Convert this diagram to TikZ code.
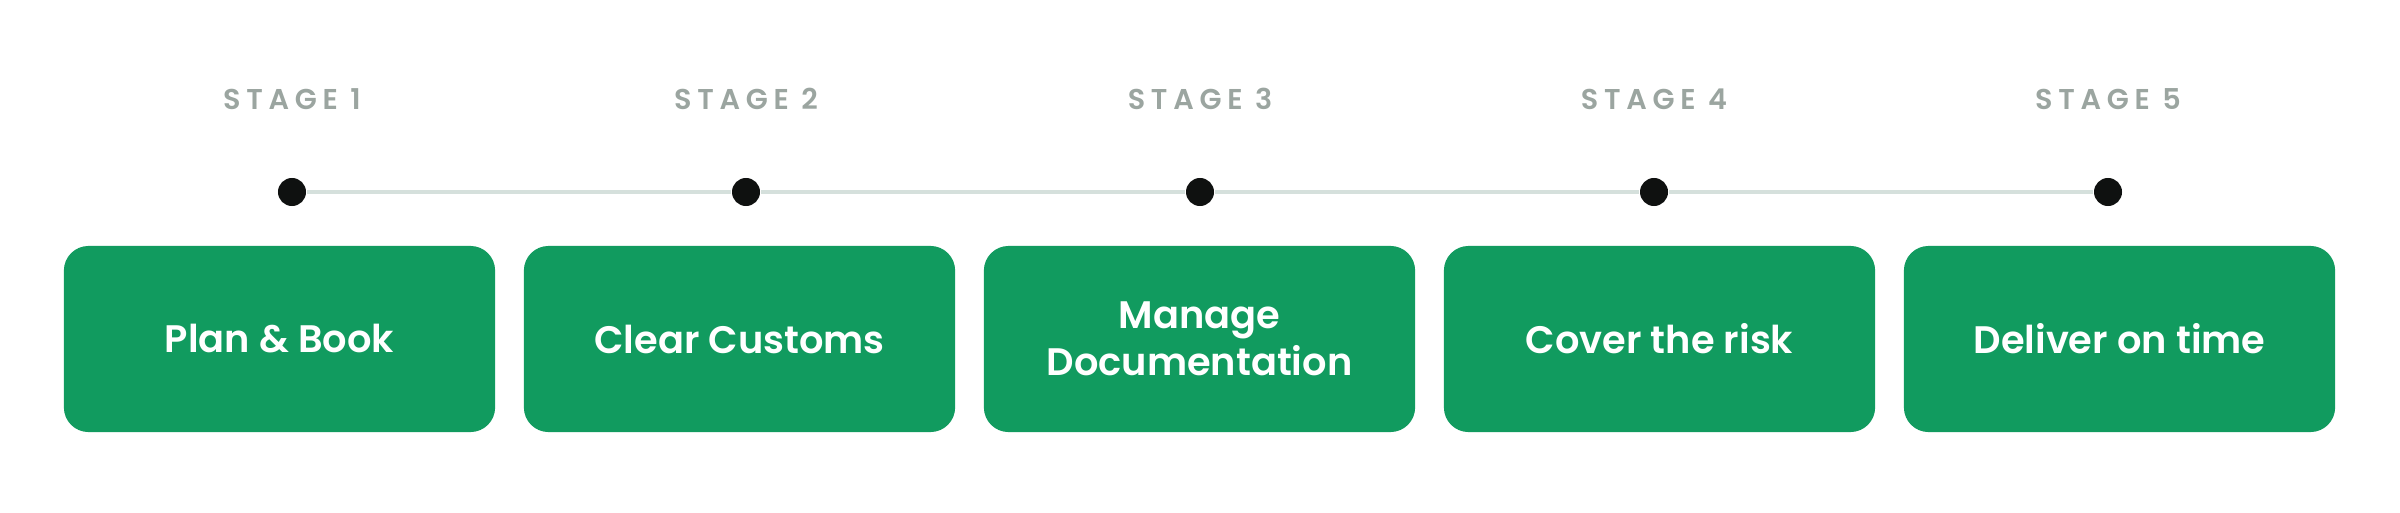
\documentclass[tikz,border=0pt]{standalone}
\usepackage{fontspec}
\setmainfont{Poppins}[BoldFont={Poppins SemiBold}]
\usetikzlibrary{positioning}
\definecolor{boxgreen}{HTML}{119B5F}
\definecolor{stagegray}{HTML}{9BA5A0}
\definecolor{linegray}{HTML}{D5E0DC}
\definecolor{dotblack}{HTML}{0F1110}
\begin{document}
\begin{tikzpicture}
    [x=0.01cm, y=-0.01cm,
    stepbox/.style={fill=boxgreen, rounded corners=7pt, minimum width=4.31cm, minimum height=1.86cm, inner sep=2pt, align=center, text=white, font=\fontsize{10.9}{13.3}\selectfont\bfseries},
    stage/.style={anchor=base, text=stagegray, font=\fontsize{8.15}{10}\selectfont\bfseries\addfontfeature{LetterSpace=20}},
    dot/.style={circle, fill=dotblack, minimum size=0.28cm, inner sep=0pt}]
    \useasboundingbox (0,0) rectangle (2400,512);
    %\draw[step=100,gray,very thin] (0,0) grid (2400,512);
    \node[stage]   (S1) at (292, 110)  {STAGE 1};
    \node[stage]   (S2) at (746, 110)  {STAGE 2};
    \node[stage]   (S3) at (1200, 110) {STAGE 3};
    \node[stage]   (S4) at (1654, 110) {STAGE 4};
    \node[stage]   (S5) at (2108, 110) {STAGE 5};
    \node[dot]     (D1) at (292, 192)  {};
    \node[dot]     (D2) at (746, 192)  {};
    \node[dot]     (D3) at (1200, 192) {};
    \node[dot]     (D4) at (1654, 192) {};
    \node[dot]     (D5) at (2108, 192) {};
    \node[stepbox] (B1) at (279.5, 339)  {Plan \& Book};
    \node[stepbox] (B2) at (739.5, 339)  {Clear Customs};
    \node[stepbox] (B3) at (1199.5, 339) {Manage\\Documentation};
    \node[stepbox] (B4) at (1659.5, 339) {Cover the risk};
    \node[stepbox] (B5) at (2119.5, 339) {Deliver on time};
    \draw[linegray, line width=1.1pt] (D1) -- (D2) -- (D3) -- (D4) -- (D5);
\end{tikzpicture}
\end{document}
